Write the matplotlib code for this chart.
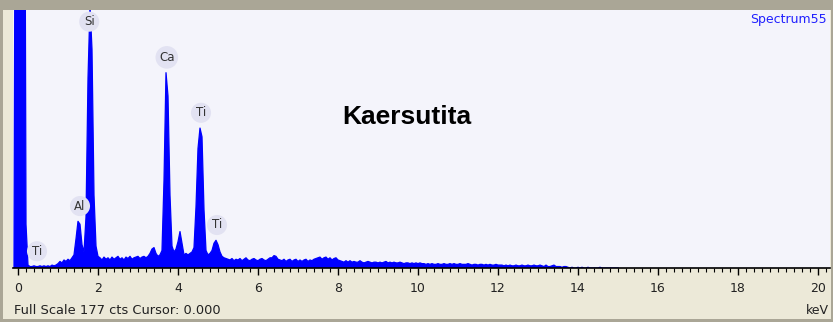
import numpy as np
import matplotlib
matplotlib.use("Agg")
import matplotlib.pyplot as plt
from matplotlib.ticker import MultipleLocator

# ---- EDS spectrum (counts per 0.05 keV channel, starting at -0.15 keV) ----
channel_start_kev = -0.15
channel_width_kev = 0.05

counts_noise_peak = [0, 0, 500, 600, 600, 600, 500, 30, 2, 1]                 # -0.15 .. 0.30
counts_low = [1, 1.5, 1, 1, 1.5, 1, 1.5, 1, 1.5, 1, 2, 1.5, 2]                 # 0.35 .. 0.95
counts_al_si = [3, 4.5, 3.5, 5.5, 4.5, 6, 5, 7, 9, 20, 32, 30, 16, 11, 35, 130,
                180, 150, 50, 15, 8]                                          # 1.00 .. 2.00
counts_2_to_36 = [7, 5.5, 7.5, 6, 7, 5.5, 7.5, 6, 7, 8, 6, 7, 5.5, 7.5, 6.5, 8,
                  6, 7, 7.5, 8, 6.5, 7.5, 8, 7, 8, 10, 13, 14, 10, 8, 9, 12]   # 2.05 .. 3.60
counts_ca_ti = [60, 134, 118, 50, 15, 11, 13, 18, 25, 17, 9, 10, 9, 10, 11, 14,
                42, 82, 96, 90, 40, 12, 9, 10, 12, 17, 19, 16, 11, 8, 7, 6.5, 6]  # 3.65 .. 5.25
counts_5_to_7 = [5.5, 6.5, 5, 6, 5.5, 6.5, 5, 6, 7, 5.5, 5, 6, 6.5, 5.5, 5,
                 6, 6.5, 5.5, 5, 6, 7, 7, 8.5, 8, 6, 5.5, 5, 6, 4.5, 5.5, 6, 4.5,
                 5.5, 6, 4.5, 5.5, 4.5, 5.5, 6, 4.5, 5.5, 5]                  # 5.30 .. 7.35
counts_7_to_10 = [6, 6.5, 7, 7.5, 6, 7, 7.5, 6, 7, 5.5, 6.5, 7, 5.5, 5, 4.5,
                  4, 5, 4, 5, 4, 4.5, 4, 4, 5, 4, 3.5, 4, 4.5, 4, 3.5, 4, 4,
                  3.5, 4, 3.5, 4, 4.5, 3.5, 4, 3.5, 4, 3.5, 3.5, 4, 3.5, 3,
                  3.5, 3.5, 3, 3.5, 3, 3.5, 3]                                # 7.40 .. 10.00
counts_10_to_12 = [3.5, 3, 3, 2.5, 3, 2.5, 3, 2.5, 2.5, 3, 2.5, 2.5, 3, 2.5,
                   2.5, 3, 2.5, 3, 2.5, 2.5, 3, 2.5, 2.5, 2.5, 3, 2.5, 2, 2.5,
                   2.5, 2, 2.5, 2.5, 2, 2.5, 2, 2.5, 2, 2, 2.5, 2]            # 10.05 .. 12.00
counts_12_to_15 = [2, 2, 1.5, 2, 1.5, 2, 1.5, 1.5, 2, 1.5, 1.5, 2, 1.5, 1.5, 2,
                   1.5, 1.5, 2, 1.5, 1.5, 2, 1.5, 1, 2, 1, 1, 1.5, 2, 1, 1, 1,
                   0.5, 1, 1, 0.5, 0, 0.5, 0, 0, 0.5, 0, 0.5, 0, 0, 0.5, 0,
                   0, 0, 0, 0, 0.5, 0, 0, 0, 0, 0, 0, 0, 0, 0]                # 12.05 .. 15.00

counts = np.array(counts_noise_peak + counts_low + counts_al_si + counts_2_to_36
                  + counts_ca_ti + counts_5_to_7 + counts_7_to_10
                  + counts_10_to_12 + counts_12_to_15, dtype=float)
energy = channel_start_kev + channel_width_kev * np.arange(len(counts))

full_scale = 177
element_names = ["Ti", "Al", "Si", "Ca", "Ti", "Ti"]
element_kev = [0.475, 1.55, 1.78, 3.72, 4.575, 4.975]

spectrum_name = "Spectrum55"
sample_title = "Kaersutita"
status_text = "Full Scale 177 cts Cursor: 0.000"
x_ticks = [0, 2, 4, 6, 8, 10, 12, 14, 16, 18, 20]

# ---- figure ----
W, H = 833, 322
fig = plt.figure(figsize=(W / 100, H / 100), dpi=100)
fig.patch.set_facecolor("#aaa696")
bg = fig.add_axes([3 / W, 1 - 319 / H, 828 / W, 309 / H], zorder=-5)
bg.set_facecolor("#ece9d8")
bg.set_xticks([]); bg.set_yticks([])
for s in bg.spines.values():
    s.set_visible(False)

x0, x1, yt, yb = 12.5, 830, 10, 268
ax = fig.add_axes([x0 / W, 1 - yb / H, (x1 - x0) / W, (yb - yt) / H], zorder=1)
ax.set_facecolor("#f4f4fb")
ax.set_xlim((x0 - 18) / 40, (x1 - 18) / 40)
ax.set_ylim(0, full_scale)

ax.fill_between(energy, counts, 0, color="#0000ff", lw=0, zorder=2)
ax.plot(energy, counts, color="#0000ff", lw=0.9, zorder=2)

for s in ["top", "right", "left"]:
    ax.spines[s].set_visible(False)
ax.spines["bottom"].set_color("black")
ax.spines["bottom"].set_linewidth(1.2)
ax.set_yticks([])
ax.xaxis.set_minor_locator(MultipleLocator(0.2))
ax.set_xticks(x_ticks)
ax.tick_params(axis="x", which="major", length=5, width=1, color="black",
               labelsize=9, labelcolor="#222222", pad=5)
ax.tick_params(axis="x", which="minor", length=3, width=0.8, color="black")

# element labels
for name, e in zip(element_names, element_kev):
    near = counts[np.abs(energy - e) <= 0.06]
    y = min(near.max() + 10.5, full_scale - 8)
    ax.text(e, y, name, ha="center", va="center", fontsize=8.5,
            color="#333333", zorder=5,
            bbox=dict(boxstyle="circle,pad=0.3", fc="#e2e2f2", ec="none"))

ax.text(1 - 3 / (x1 - x0), 1 - 9 / (yb - yt), spectrum_name,
        transform=ax.transAxes, ha="right", va="center",
        fontsize=9, color="#2020ff")
fig.text(407 / W, 1 - 117 / H, sample_title, ha="center", va="center",
         fontsize=19, fontweight="bold", family="Liberation Sans",
         color="black")
fig.text(14 / W, 1 - 311 / H, status_text, ha="left", va="center",
         fontsize=9.4, color="#222222")
fig.text(829 / W, 1 - 310 / H, "keV", ha="right", va="center",
         fontsize=9, color="#222222")

fig.savefig("out.png", dpi=100, facecolor=fig.get_facecolor())
